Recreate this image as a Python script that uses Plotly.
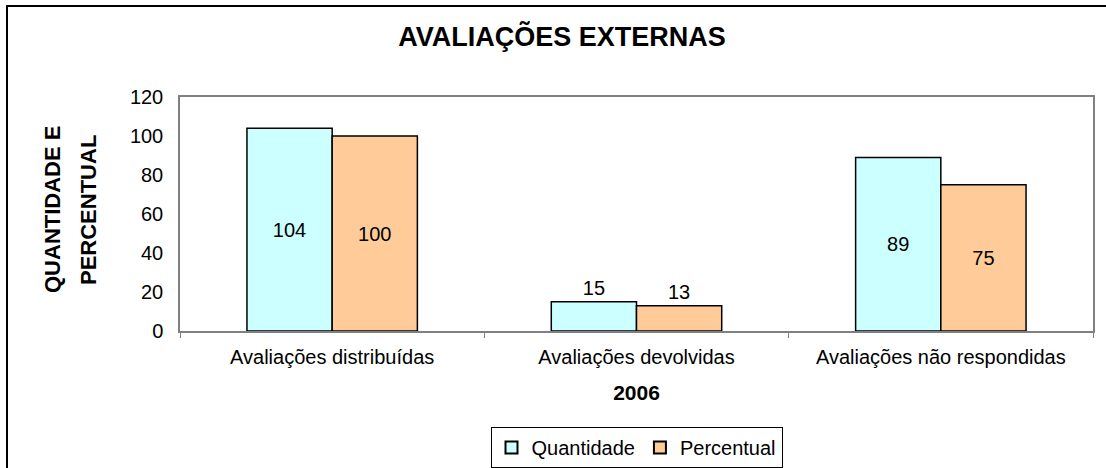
import plotly.graph_objects as go

categories = ["Avaliações distribuídas", "Avaliações devolvidas", "Avaliações não respondidas"]
quantidade = [104, 15, 89]
percentual = [100, 13, 75]
series_names = ["Quantidade", "Percentual"]
title_text = "AVALIAÇÕES EXTERNAS"
x_title = "2006"
y_title_lines = ["QUANTIDADE E", "PERCENTUAL"]

FONT = "Liberation Sans, Arial, sans-serif"

def positions(vals):
    return ["inside" if v > 40 else "outside" for v in vals]

fig = go.Figure()
for name, vals, color in [(series_names[0], quantidade, "#CCFFFF"), (series_names[1], percentual, "#FFCC99")]:
    fig.add_trace(go.Bar(
        name=name, x=categories, y=vals,
        marker=dict(color=color, line=dict(color="black", width=1.5)),
        text=[str(v) for v in vals], textposition=positions(vals),
        insidetextanchor="middle", textangle=0,
        textfont=dict(size=20, color="black", family=FONT),
        outsidetextfont=dict(size=20, color="black", family=FONT),
        insidetextfont=dict(size=20, color="black", family=FONT),
        cliponaxis=False,
    ))

L, R, T, B = 180, 13, 97, 137
W, H = 1106, 468
pw = W - L - R
ph = H - T - B

fig.update_layout(
    width=W, height=H,
    margin=dict(l=L, r=R, t=T, b=B, pad=0, autoexpand=False),
    paper_bgcolor="white", plot_bgcolor="white",
    barmode="group", bargap=0.44, bargroupgap=0,
    font=dict(family=FONT, color="black", size=20),
    title=dict(text="<b>" + title_text + "</b>", x=562 / W, xanchor="center",
               y=1 - 37 / H, yanchor="middle", font=dict(size=27, family=FONT)),
    showlegend=True,
    legend=dict(orientation="h", x=0.5, xanchor="center", y=-(427 - (T + ph)) / ph, yanchor="top",
                bordercolor="black", borderwidth=1, font=dict(size=20, family=FONT),
                itemsizing="constant", traceorder="normal", tracegroupgap=0),
    xaxis=dict(showline=True, linecolor="#808080", linewidth=1.5, mirror=True,
               ticks="outside", tickson="boundaries", ticklen=5, tickcolor="#808080",
               tickfont=dict(size=20), ticklabelstandoff=7,
               title=dict(text="<b>" + x_title + "</b>", font=dict(size=21), standoff=19)),
    yaxis=dict(range=[0, 120], dtick=20, showgrid=False, zeroline=False,
               showline=True, linecolor="#808080", linewidth=1.5, mirror=True,
               ticks="", tickfont=dict(size=20), ticklabelstandoff=11),
)

# y axis title as two rotated lines
for txt, xpx in zip(y_title_lines, [52, 88]):
    fig.add_annotation(text="<b>" + txt + "</b>", textangle=-90, showarrow=False,
                       xref="paper", yref="paper", x=(xpx - L) / pw, y=(T + ph - 210) / ph,
                       xanchor="center", yanchor="middle", font=dict(size=22, family=FONT))

# outer chart frame
fig.add_shape(type="rect", xref="paper", yref="paper",
              x0=(7 - L) / pw, x1=(W + 10 - L) / pw,
              y0=-(H + 10 - T - ph) / ph, y1=(T + ph - 6) / ph,
              line=dict(color="black", width=2), fillcolor="rgba(0,0,0,0)", layer="below")

fig.write_html("out.html", config={"displayModeBar": False},
               post_script="document.body.style.margin='0';document.body.style.overflow='hidden';")
